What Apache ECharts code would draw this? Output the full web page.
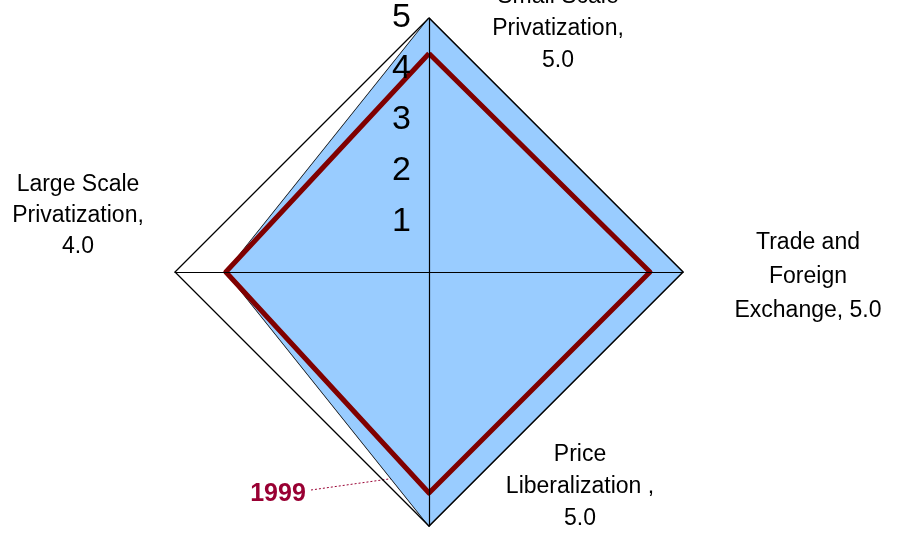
<!DOCTYPE html>
<html>
<head>
<meta charset="utf-8">
<script src="https://cdn.jsdelivr.net/npm/echarts@6/dist/echarts.min.js"></script>
<style>
  html, body { margin: 0; padding: 0; background: #fff; }
  #chart { width: 900px; height: 540px; }
</style>
</head>
<body>
<div id="chart"></div>
<script>
// indicators go counter-clockwise from the top
const indicatorNames = ['Small Scale Privatization', 'Large Scale Privatization', 'Price Liberalization', 'Trade and Foreign Exchange']
const scoreMax = 5
const values2003 = [5.0, 4.0, 5.0, 5.0]
const values1999 = [4.3, 4.0, 4.35, 4.35]
const seriesLabel = '1999'

const chart = echarts.init(document.getElementById('chart'))

const font = 'Liberation Sans, Arial, sans-serif'
const labelStyle = { fontSize: 23, lineHeight: 33, fill: '#000', fontFamily: font, align: 'center', verticalAlign: 'middle' }

chart.setOption({
  animation: false,
  radar: {
    z: 10,
    center: [429, 272],
    radius: 254,
    startAngle: 90,
    shape: 'polygon',
    splitNumber: 5,
    indicator: indicatorNames.map((n, i) => ({
      name: '',
      min: 0,
      max: scoreMax,
      axisLabel: i === 0 ? { show: true } : undefined
    })),
    axisName: { show: false },
    axisLine: { lineStyle: { color: '#000', width: 1.2 } },
    axisTick: { show: false },
    axisLabel: {
      show: false,
      color: '#000',
      fontSize: 34,
      fontFamily: font,
      margin: 18,
      padding: [8, 0, 0, 0],
      showMinLabel: false
    },
    splitLine: {
      lineStyle: {
        color: ['rgba(0,0,0,0)', 'rgba(0,0,0,0)', 'rgba(0,0,0,0)', 'rgba(0,0,0,0)', 'rgba(0,0,0,0)', '#000'],
        width: 1.3
      }
    },
    splitArea: { show: false }
  },
  series: [
    {
      type: 'radar',
      symbol: 'none',
      z: 1,
      data: [{
        value: values2003,
        lineStyle: { color: '#000', width: 1.3 },
        areaStyle: { color: '#99ccff', opacity: 1 }
      }]
    },
    {
      type: 'radar',
      symbol: 'none',
      z: 2,
      data: [{
        value: values1999,
        lineStyle: { color: '#800000', width: 5 }
      }]
    }
  ],
  graphic: [
    { type: 'text', x: 558, y: 29, style: Object.assign({}, labelStyle, { lineHeight: 32, text: 'Small Scale\nPrivatization,\n' + values2003[0].toFixed(1) }), silent: true },
    { type: 'text', x: 78, y: 216, style: Object.assign({}, labelStyle, { lineHeight: 31, text: 'Large Scale\nPrivatization,\n' + values2003[1].toFixed(1) }), silent: true },
    { type: 'text', x: 580, y: 487, style: Object.assign({}, labelStyle, { lineHeight: 32, text: 'Price\nLiberalization ,\n' + values2003[2].toFixed(1) }), silent: true },
    { type: 'text', x: 808, y: 277, style: Object.assign({}, labelStyle, { lineHeight: 34, text: 'Trade and\nForeign\nExchange, ' + values2003[3].toFixed(1) }), silent: true },
    { type: 'text', x: 278, y: 494, style: { text: seriesLabel, fontSize: 25, fontWeight: 'bold', fill: '#990033', fontFamily: font, align: 'center', verticalAlign: 'middle' }, silent: true },
    { type: 'polyline', shape: { points: [[311, 490], [410, 476]] }, style: { stroke: '#990033', lineWidth: 1, lineDash: [2, 2] }, silent: true }
  ]
})
</script>
</body>
</html>
